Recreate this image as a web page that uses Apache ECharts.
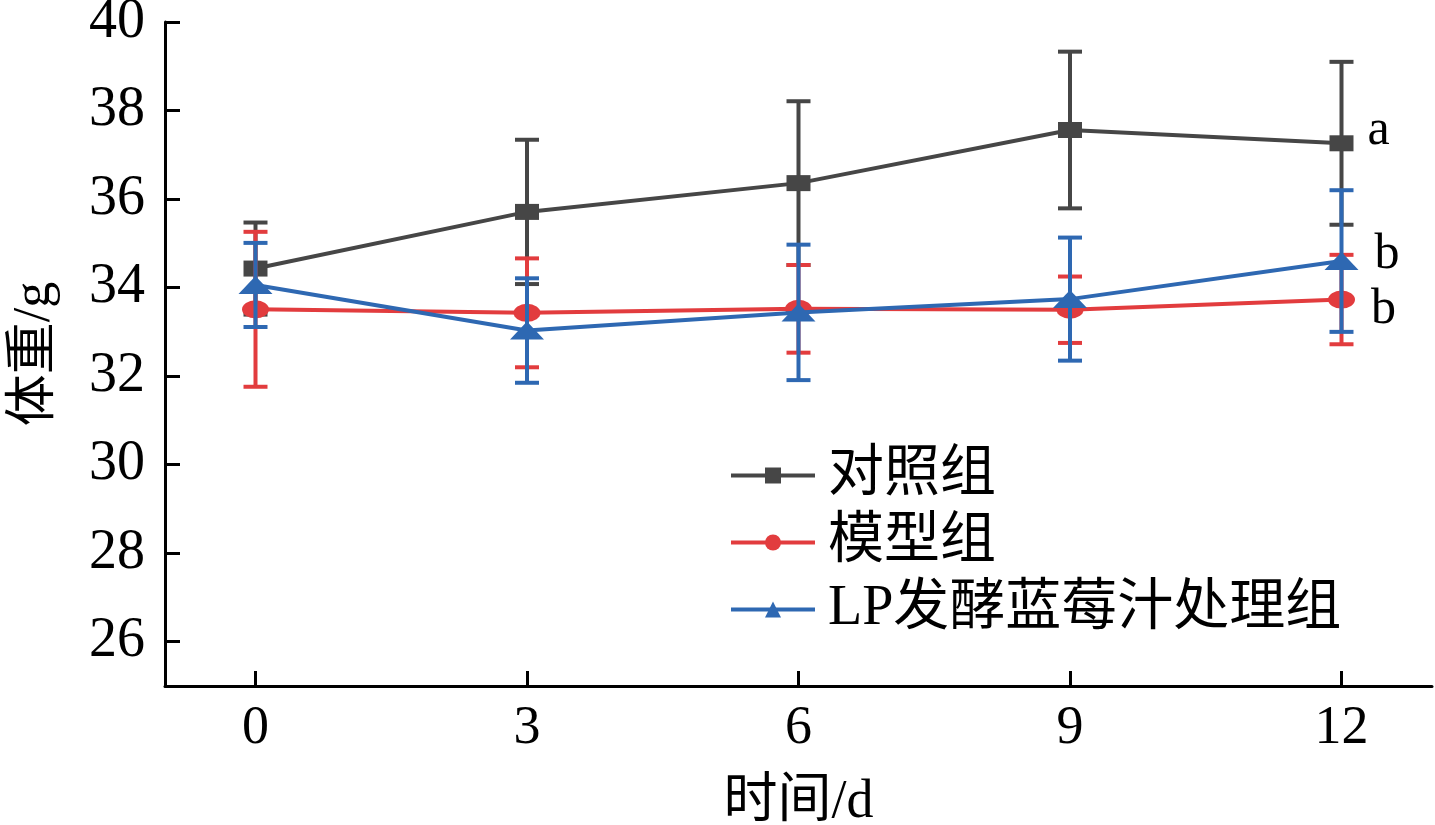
<!DOCTYPE html>
<html>
<head>
<meta charset="utf-8">
<script src="https://cdn.jsdelivr.net/npm/echarts@6/dist/echarts.min.js"></script>
<style>
  html, body { margin: 0; padding: 0; background: #fff; }
  #chart { width: 1435px; height: 825px; }
</style>
</head>
<body>
<div id="chart"></div>
<script>
// 数据
const days = [0, 3, 6, 9, 12];
const yTicks = [26, 28, 30, 32, 34, 36, 38, 40];
const groupNames = ['对照组', '模型组', 'LP发酵蓝莓汁处理组'];
const sigLetters = ['a', 'b', 'b'];

const ctrlMean = [34.43, 35.71, 36.36, 37.56, 37.26];
const ctrlErr = [1.04, 1.63, 1.85, 1.77, 1.84];
const modelMean = [33.51, 33.43, 33.52, 33.50, 33.73];
const modelErr = [1.75, 1.23, 0.99, 0.75, 1.01];
const lpMean = [34.06, 33.03, 33.44, 33.74, 34.60];
const lpErr = [0.95, 1.18, 1.53, 1.39, 1.60];

// 样式
const colors = ['#464646', '#e23c3e', '#2e68b2'];
const symbols = ['rect', 'circle', 'triangle'];
const symbolSizes = [[24, 16], [27, 18], [34, 18]];
// 对照组 / 模型组 / LP组 的字母偏移
const letterOffsets = [[0, -12], [2, 10], [2, -6]];
const fontFamily = "'Liberation Serif', 'Noto Sans CJK SC', serif";

const chart = echarts.init(document.getElementById('chart'));

const groups = [
  { mean: ctrlMean, err: ctrlErr },
  { mean: modelMean, err: modelErr },
  { mean: lpMean, err: lpErr },
];

function errorBarItem(color) {
  return function (params, api) {
    const x = api.value(0);
    const hi = api.coord([x, api.value(2)]);
    const lo = api.coord([x, api.value(1)]);
    const half = 12;
    const style = { stroke: color, lineWidth: 4 };
    return {
      type: 'group',
      children: [
        { type: 'line', shape: { x1: hi[0], y1: hi[1], x2: lo[0], y2: lo[1] }, style },
        { type: 'line', shape: { x1: hi[0] - half, y1: hi[1], x2: hi[0] + half, y2: hi[1] }, style },
        { type: 'line', shape: { x1: lo[0] - half, y1: lo[1], x2: lo[0] + half, y2: lo[1] }, style },
      ],
    };
  };
}

const series = [];
groups.forEach((g, idx) => {
  series.push({
    type: 'custom',
    name: groupNames[idx] + '-err',
    renderItem: errorBarItem(colors[idx]),
    data: days.map((d, i) => [d, g.mean[i] - g.err[i], g.mean[i] + g.err[i]]),
    z: 2 + idx * 2,
    silent: true,
  });
  series.push({
    type: 'line',
    name: groupNames[idx],
    data: days.map((d, i) => {
      const item = { value: [d, g.mean[i]] };
      if (i === days.length - 1) {
        item.label = {
          show: true,
          position: 'right',
          distance: 14,
          offset: letterOffsets[idx],
          formatter: sigLetters[idx],
          color: '#000',
          fontSize: 50,
          fontFamily: fontFamily,
        };
      }
      return item;
    }),
    symbol: symbols[idx],
    symbolSize: symbolSizes[idx],
    showAllSymbol: true,
    lineStyle: { color: colors[idx], width: 4 },
    itemStyle: { color: colors[idx] },
    z: 3 + idx * 2,
    animation: false,
  });
});

const option = {
  animation: false,
  grid: { left: 165, right: 3, top: 22, bottom: 139, containLabel: false, outerBoundsMode: 'none' },
  xAxis: {
    type: 'value',
    min: -1,
    max: 13,
    name: '时间/d',
    nameLocation: 'middle',
    nameGap: 90,
    nameTextStyle: { fontSize: 54, color: '#000', fontFamily: fontFamily },
    axisLine: { show: true, onZero: false, lineStyle: { color: '#000', width: 3 } },
    axisTick: { show: true, inside: true, length: 15, lineStyle: { color: '#000', width: 3 }, customValues: days },
    axisLabel: { customValues: days, fontSize: 54, color: '#000', fontFamily: fontFamily, margin: 16 },
    splitLine: { show: false },
  },
  yAxis: {
    type: 'value',
    min: 25,
    max: 40,
    name: '体重/g',
    nameLocation: 'middle',
    nameGap: 104,
    nameTextStyle: { fontSize: 52, color: '#000', fontFamily: fontFamily },
    axisLine: { show: true, onZero: false, lineStyle: { color: '#000', width: 3 } },
    axisTick: { show: true, inside: true, length: 15, lineStyle: { color: '#000', width: 3 }, customValues: yTicks },
    axisLabel: { customValues: yTicks, fontSize: 56, color: '#000', fontFamily: fontFamily, margin: 20 },
    splitLine: { show: false },
  },
  legend: {
    data: groupNames,
    orient: 'vertical',
    left: 724,
    top: 442,
    itemWidth: 84,
    itemHeight: 20,
    itemGap: 10,
    lineStyle: { width: 4 },
    textStyle: { fontSize: 56, lineHeight: 57, color: '#000', fontFamily: fontFamily, padding: [0, 0, 0, 8] },
  },
  series,
};

chart.setOption(option);
</script>
</body>
</html>
